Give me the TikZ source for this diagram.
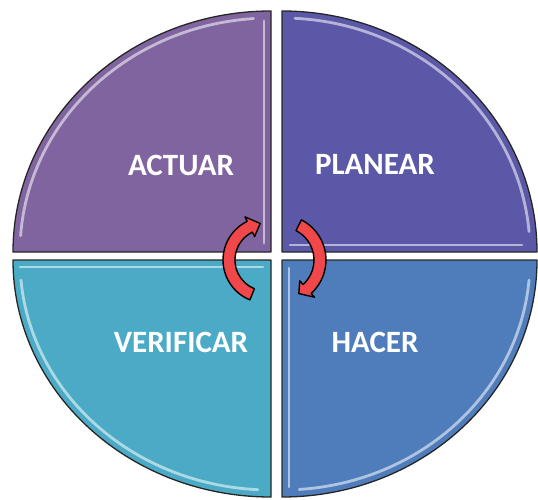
\documentclass[tikz,border=0pt]{standalone}
\usepackage{fontspec}
\setsansfont{Carlito}
\usepackage{tikz}
\usetikzlibrary{calc}
\definecolor{actpurple}{RGB}{128,100,160}
\definecolor{planviolet}{RGB}{92,88,168}
\definecolor{verifcyan}{RGB}{75,171,198}
\definecolor{hacerblue}{RGB}{79,125,187}
\definecolor{cyclered}{RGB}{240,72,74}
\tikzset{
  quarter/.style={draw=black!85,line width=1.3pt,line join=round},
  glint/.style={draw=white,line width=2.8pt,opacity=0.55,line cap=round},
  phasetext/.style={text=white,font=\fontsize{31}{31}\selectfont\sffamily\bfseries},
  cyclearrow/.style={draw=black,line width=1.4pt,fill=cyclered,line join=round},
}

\begin{document}
\begin{tikzpicture}[x=1pt,y=1pt]
  \useasboundingbox (0,0) rectangle (538,499);
  % quadrants
  \draw[quarter,fill=actpurple] (271,247) -- (13,247) arc[start angle=180,end angle=90,x radius=258pt,y radius=241pt] -- cycle;
  \draw[quarter,fill=planviolet] (282,247) -- (282,488) arc[start angle=90,end angle=0,x radius=255pt,y radius=241pt] -- cycle;
  \draw[quarter,fill=verifcyan] (271,239) -- (13,239) arc[start angle=180,end angle=270,x radius=258pt,y radius=237pt] -- cycle;
  \draw[quarter,fill=hacerblue] (282,239) -- (282,2) arc[start angle=270,end angle=360,x radius=255pt,y radius=237pt] -- cycle;
  % bevel highlights
  \draw[glint] (264,256) -- (264,478);
  \draw[glint] ($(271,247)+(176:251pt and 234pt)$) arc[start angle=176,end angle=94,x radius=251pt,y radius=234pt];
  \draw[glint] (290,254) -- (522,254);
  \draw[glint] ($(282,247)+(87:248pt and 234pt)$) arc[start angle=87,end angle=5,x radius=248pt,y radius=234pt];
  \draw[glint] (20,232) -- (263,232);
  \draw[glint] ($(271,239)+(185:251pt and 230pt)$) arc[start angle=185,end angle=267,x radius=251pt,y radius=230pt];
  \draw[glint] (289,231) -- (289,12);
  \draw[glint] ($(282,239)+(274:248pt and 230pt)$) arc[start angle=274,end angle=355,x radius=248pt,y radius=230pt];
  % labels
  \node[phasetext] (actuar) at (181,334) {ACTUAR};
  \node[phasetext] (planear) at (375,335) {PLANEAR};
  \node[phasetext] (verificar) at (181,157) {VERIFICAR};
  \node[phasetext] (hacer) at (375,157) {HACER};
  % cycle arrows
  \coordinate (lc) at (266,239);
  \coordinate (rc) at (281,239);
  \draw[cyclearrow] ($(lc)+(248:43pt)$) arc[start angle=248,end angle=116,radius=43pt]
    -- ($(lc)+(116:48pt)$) -- ($(lc)+(99:37pt)$) -- ($(lc)+(116:26pt)$)
    -- ($(lc)+(116:31pt)$) arc[start angle=116,end angle=248,radius=31pt] -- cycle;
  \draw[cyclearrow] ($(rc)+(63:45pt)$) arc[start angle=63,end angle=-48,radius=45pt]
    -- ($(rc)+(-48:50pt)$) -- ($(rc)+(-62:38pt)$) -- ($(rc)+(-48:28pt)$)
    -- ($(rc)+(-48:33pt)$) arc[start angle=-48,end angle=63,radius=33pt] -- cycle;
\end{tikzpicture}
\end{document}
